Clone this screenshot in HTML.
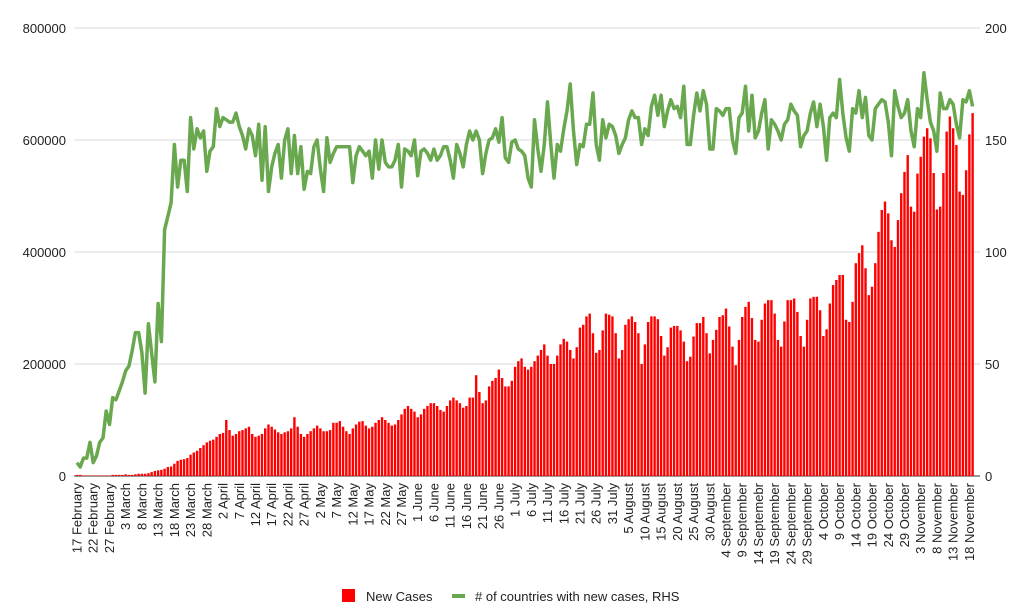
<!DOCTYPE html>
<html><head><meta charset="utf-8"><style>
html,body{margin:0;padding:0;background:#fff;}
svg{display:block;font-family:"Liberation Sans",Arial,sans-serif;}
</style></head><body>
<svg id="chart" width="1031" height="608" viewBox="0 0 1031 608" xmlns="http://www.w3.org/2000/svg">
<g id="grid"></g>
<g id="bars"></g>
<g id="line"></g>
<g id="yl"></g>
<g id="yr"></g>
<g id="xl"></g>
<g>
<g><rect x="342" y="589" width="13" height="13" fill="#ff0000"/><text x="366" y="601" font-size="13" fill="#222">New Cases</text></g>
<g><line x1="452" y1="596" x2="465" y2="596" stroke="#6aa84f" stroke-width="4"/><text x="475" y="601" font-size="13" fill="#222"># of countries with new cases, RHS</text></g>
</g>
</svg>
<script>
const leftTicks=[0,200000,400000,600000,800000];
const rightTicks=[0,50,100,150,200];
const xLabels=["17 February","22 February","27 February","3 March","8 March","13 March","18 March","23 March","28 March","2 April","7 April","12 April","17 April","22 April","27 April","2 May","7 May","12 May","17 May","22 May","27 May","1 June","6 June","11 June","16 June","21 June","26 June","1 July","6 July","11 July","16 July","21 July","26 July","31 July","5 August","10 August","15 August","20 August","25 August","30 August","4 September","9 September","14 Septemebr","19 September","24 September","29 September","4 October","9 October","14 October","19 October","24 October","29 October","3 November","8 November","13 November","18 November"];
const newCasesK=[2,2,1,1,1,1,1,1,1,1,1,2,2,
2,2,3,2,2,3,4,4,
4,5,7,9,10,11,13,
16,17,22,27,29,30,32,
38,42,45,50,55,
60,63,65,70,75,77,100,
82,72,75,80,82,85,88,
75,70,72,75,85,92,88,
83,78,75,78,80,85,105,
88,75,70,75,80,85,90,
85,80,80,82,95,95,98,
88,80,75,85,92,97,98,
90,85,88,95,100,105,100,
95,90,92,100,110,120,125,
120,115,105,110,120,125,130,
130,125,118,115,125,135,140,
135,130,122,125,140,140,180,
150,130,135,160,170,175,190,
175,160,160,170,195,205,210,
195,190,195,205,215,225,235,
215,200,200,215,235,245,240,
225,210,230,265,270,285,290,
255,220,225,260,290,288,285,
255,210,225,270,280,285,275,
255,200,235,275,285,285,280,
250,215,230,265,268,268,260,
240,205,
213,249,273,273,284,255,219,243,261,284,287,299,267,231,198,243,284,302,311,282,
243,240,279,308,314,314,290,243,231,276,314,314,317,293,250,231,279,317,320,320,
296,250,262,308,341,350,359,359,279,275,311,380,398,412,371,323,338,380,436,475,
490,469,421,409,457,505,543,573,481,472,540,570,606,621,603,541,476,481,541,615,
642,621,591,508,502,546,610,648];
const countries=[6,4,8,8,15,6,9,15,17,29,23,35,34,38,42,47,49,56,64,64,55,37,68,55,42,77,60,110,116,122,
148,129,141,141,127,160,146,155,151,154,136,145,147,164,156,160,159,158,158,162,156,152,146,155,152,143,157,132,156,127,
138,144,148,133,150,155,135,152,135,147,128,136,135,147,150,137,127,151,140,144,147,147,147,147,147,131,143,147,145,143,
145,133,150,137,
150,140,138,138,141,148,129,146,145,143,150,134,145,146,144,141,146,141,143,147,147,141,133,148,144,138,148,154,150,154,
150,135,144,150,151,155,149,160,142,140,149,150,146,145,143,133,129,159,146,136,148,167,148,133,148,145,155,163,175,154,
139,148,147,157,157,171,148,141,159,151,157,156,152,144,148,151,159,163,160,160,148,155,152,165,170,161,170,156,163,168,
164,165,160,174,148,148,161,171,163,
172,166,146,146,164,163,161,164,164,150,144,160,162,174,154,170,151,154,162,168,
146,159,157,154,150,157,159,166,163,161,147,152,154,162,167,156,166,156,141,160,
162,160,177,162,151,145,164,162,172,160,169,152,150,164,166,168,167,158,143,
172,165,160,162,168,154,147,164,160,180,168,158,154,145,171,164,164,168,166,157,151,168,167,172,165];

const NS="http://www.w3.org/2000/svg";
const X0=77, STEP=3.245, Y0=476, YTOP=28;
function xs(i){return X0+i*STEP;}
function yL(v){return Y0-(v/800000)*(Y0-YTOP);}
function yR(v){return Y0-(v/200)*(Y0-YTOP);}
function mk(tag,attrs,parent){const e=document.createElementNS(NS,tag);for(const k in attrs)e.setAttribute(k,attrs[k]);parent.appendChild(e);return e;}
const grid=document.getElementById('grid'),yl=document.getElementById('yl'),yr=document.getElementById('yr'),xl=document.getElementById('xl'),bars=document.getElementById('bars'),line=document.getElementById('line');
leftTicks.forEach((t,i)=>{
  const y=yL(t);
  const g=mk('line',{x1:74,x2:980,y1:y,y2:y,stroke:t===0?'#333':'#d9d9d9','stroke-width':1},grid);
  
  
  const tx=mk('text',{x:66,y:y+5,'text-anchor':'end','font-size':13,fill:'#222'},yl);
  tx.textContent=String(t);
  
  
});
rightTicks.forEach(t=>{
  const tx=mk('text',{x:985,y:yR(t)+5,'font-size':13,fill:'#222'},yr);
  tx.textContent=String(t);
  
  
});
xLabels.forEach((s,k)=>{
  const x=xs(k*5)+4.5;
  const tx=mk('text',{x:0,y:0,transform:`translate(${x},483) rotate(-90)`,'text-anchor':'end','font-size':13,fill:'#222'},xl);
  tx.textContent=s;
  
  
});
newCasesK.forEach((v,i)=>{
  const y=yL(v*1000);
  const r=mk('rect',{x:xs(i)-1.2,y:y,width:2.4,height:Y0-y,fill:'#ff0000'},bars);
  
  
});
const pts=countries.map((v,i)=>xs(i).toFixed(1)+','+yR(v).toFixed(1)).join(' ');
const pl=mk('polyline',{points:pts,fill:'none',stroke:'#6aa84f','stroke-width':3.5,'stroke-linejoin':'round'},line);


</script>
</body></html>
